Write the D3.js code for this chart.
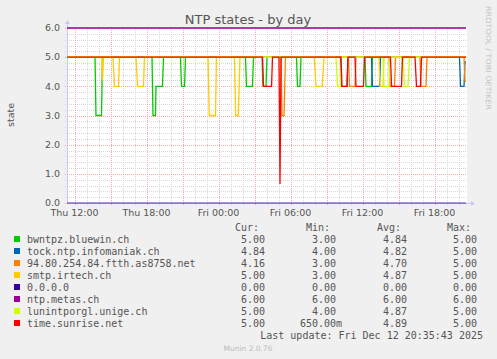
<!DOCTYPE html>
<html>
<head>
<meta charset="utf-8">
<script src="https://cdn.jsdelivr.net/npm/d3@7"></script>
<style>
html,body{margin:0;padding:0;background:#F0F0F0;}
svg{display:block;}
</style>
</head>
<body>
<script>
// ---- data (hours counted from Thu 00:00, value) ----
const names = ["bwntpz.bluewin.ch","tock.ntp.infomaniak.ch","94.80.254.84.ftth.as8758.net","smtp.irtech.ch","0.0.0.0","ntp.metas.ch","lunintporgl.unige.ch","time.sunrise.net"];
const colors = ["#00CC00","#0066B3","#FF8000","#FFCC00","#330099","#990099","#CCFF00","#FF0000"];
const curVals = ["5.00","4.84","4.16","5.00","0.00","6.00","5.00","5.00"];
const minVals = ["3.00","4.00","3.00","3.00","0.00","6.00","4.00","650.00m"];
const avgVals = ["4.84","4.82","4.70","4.87","0.00","6.00","4.87","4.89"];
const maxVals = ["5.00","5.00","5.00","5.00","0.00","6.00","5.00","5.00"];
const yTicks = [0,1,2,3,4,5,6];
const timeStart = 11.375, timeEnd = 44.708;

const green = [[11.375,5],
 [13.71,5],[13.79,3],[14.25,3],[14.33,5],
 [18.46,5],[18.54,3],[18.75,3],[18.79,4],[19.33,4],[19.42,5],
 [20.83,5],[20.92,4],[21.17,4],[21.25,5],
 [26.25,5],[26.33,4],[26.83,4],[26.92,5],
 [27.625,5],[27.71,4],[27.96,4],[28.04,5],
 [30.5,5],[30.58,4],[30.79,4],[30.875,5],
 [36.21,5],[36.29,4],[36.75,4],[36.83,5],
 [44.625,5]];
const blue = [[11.375,5],
 [34.17,5],[34.25,4],[34.71,4],[34.79,5],
 [36.75,5],[36.83,4],[37.42,4],[37.5,5],
 [44.08,5],[44.17,4],[44.46,4],[44.54,4.84],[44.625,4.84]];
const orange = [[11.375,5],
 [29.21,5],[29.29,3],[29.46,3],[29.58,5],
 [34.83,5],[34.92,4],[35.375,4],[35.46,5],
 [38.21,5],[38.29,4],[38.67,4],[38.75,5],
 [40.79,5],[40.875,4],[41.29,4],[41.375,5],
 [44.46,5],[44.54,4.16],[44.625,4.16]];
const yellow = [[11.375,5],
 [14.29,5],[14.33,4.2],[14.42,5],
 [15.21,5],[15.33,4],[15.67,4],[15.75,5],
 [17.125,5],[17.25,4],[17.75,4],[17.83,5],
 [23.125,5],[23.23,3],[23.75,3],[23.83,5],
 [25.33,5],[25.43,3],[25.65,3],[25.79,5],
 [31.98,5],[32.125,4],[32.65,4],[32.79,5],
 [37.375,5],[37.46,4],[37.71,4],[37.79,5],
 [44.625,5]];
const zeroSeries = [[11.375,0],[44.625,0]];
const metas = [[11.375,6],[44.625,6]];
const lime = [[11.375,5],
 [33.79,5],[33.92,4],[34.17,4],[34.25,5],
 [37.71,5],[37.79,4],[38.21,4],[38.29,5],
 [39.375,5],[39.5,4],[39.79,4],[39.92,5],
 [44.625,5]];
const red = [[11.375,5],
 [27.67,5],[27.75,4],[28.42,4],[28.5,5],
 [29.04,5],[29.125,0.65],[29.21,5],
 [34.21,5],[34.29,4],[34.71,4],[34.79,5],
 [35.375,5],[35.46,4],[36.08,4],[36.17,5],
 [38.33,5],[38.42,4],[39.25,4],[39.33,5],
 [40.375,5],[40.5,4],[40.83,4],[40.92,5],
 [44.625,5]];
const seriesData = [green, blue, orange, yellow, zeroSeries, metas, lime, red];

// ---- drawing ----
const W = 497, H = 359;
const base = new Date(2025, 11, 11, 0, 0, 0);
const toDate = h => new Date(base.getTime() + h * 3600000);
const L = 67, R = 467, T = 28, B = 203;

const svg = d3.select("body").append("svg").attr("width", W).attr("height", H);
svg.append("rect").attr("width", W).attr("height", H).attr("fill", "#F0F0F0");

const x = d3.scaleTime().domain([toDate(timeStart), toDate(timeEnd)]).range([L, R]);
const y = d3.scaleLinear().domain([0, 6]).range([B, T]);

svg.append("rect").attr("x", L).attr("y", T).attr("width", R - L).attr("height", B - T).attr("fill", "#FFFFFF");

const grid = svg.append("g").attr("shape-rendering", "crispEdges");
d3.range(0, 6.01, 0.2).forEach(v => {
  if (Math.abs(v - Math.round(v)) < 1e-6) return;
  const yy = Math.round(y(v)) + 0.5;
  grid.append("line").attr("x1", L - 2).attr("x2", R).attr("y1", yy).attr("y2", yy)
    .attr("stroke", "#D8D8D8").attr("stroke-dasharray", "1,1");
});
x.ticks(d3.timeHour.every(1)).forEach(d => {
  if (d.getHours() % 3 === 0) return;
  const xx = Math.round(x(d)) + 0.5;
  grid.append("line").attr("x1", xx).attr("x2", xx).attr("y1", T).attr("y2", B + 2)
    .attr("stroke", "#D8D8D8").attr("stroke-dasharray", "1,1");
});
yTicks.forEach(v => {
  const yy = Math.round(y(v)) + 0.5;
  grid.append("line").attr("x1", L - 2).attr("x2", R).attr("y1", yy).attr("y2", yy)
    .attr("stroke", "#F0A8A8").attr("stroke-dasharray", "1,1");
});
x.ticks(d3.timeHour.every(3)).forEach(d => {
  const xx = Math.round(x(d)) + 0.5;
  grid.append("line").attr("x1", xx).attr("x2", xx).attr("y1", T).attr("y2", B + 2)
    .attr("stroke", "#F0A8A8").attr("stroke-dasharray", "1,1");
});

const axisCol = "#C8C8F8";
svg.append("line").attr("x1", L + 0.5).attr("x2", L + 0.5).attr("y1", B).attr("y2", T - 6)
  .attr("stroke", axisCol).attr("shape-rendering", "crispEdges");
svg.append("path").attr("d", `M${L-2},${T-4}L${L+0.5},${T-8}L${L+3},${T-4}Z`).attr("fill", axisCol);
svg.append("line").attr("x1", L).attr("x2", R + 6).attr("y1", B + 0.5).attr("y2", B + 0.5)
  .attr("stroke", axisCol).attr("shape-rendering", "crispEdges");
svg.append("path").attr("d", `M${R+4},${B-2}L${R+8},${B+0.5}L${R+4},${B+3}Z`).attr("fill", axisCol);

svg.append("g").selectAll("text").data(yTicks).join("text")
  .attr("x", 60).attr("y", d => y(d)).attr("dy", "0.35em")
  .attr("text-anchor", "end").attr("font-family", "DejaVu Sans").attr("font-size", 9.5)
  .attr("fill", "#555").text(d => d.toFixed(1));

const fmt = d3.timeFormat("%a %H:%M");
svg.append("g").selectAll("text").data(x.ticks(d3.timeHour.every(6))).join("text")
  .attr("x", d => x(d)).attr("y", 216)
  .attr("text-anchor", "middle").attr("font-family", "DejaVu Sans").attr("font-size", 9.5)
  .attr("fill", "#555").text(d => fmt(d));

const line = d3.line().x(d => x(toDate(d[0]))).y(d => y(d[1]));
seriesData.forEach((s, i) => {
  svg.append("path").attr("d", line(s)).attr("fill", "none")
    .attr("stroke", colors[i]).attr("stroke-width", 1.3)
    .attr("stroke-opacity", i === 4 ? 0.55 : 1);
});

svg.append("text").attr("x", 248).attr("y", 24).attr("text-anchor", "middle")
  .attr("font-family", "DejaVu Sans").attr("font-size", 13).attr("fill", "#555")
  .text("NTP states - by day");

svg.append("text").attr("transform", "translate(14,115) rotate(-90)")
  .attr("text-anchor", "middle").attr("font-family", "DejaVu Sans").attr("font-size", 9.5)
  .attr("fill", "#555").text("state");

svg.append("text").attr("transform", "translate(485.5,6) rotate(90)")
  .attr("text-anchor", "start").attr("font-family", "DejaVu Sans").attr("font-size", 7)
  .attr("fill", "#C4C4C4").attr("textLength", 104).attr("lengthAdjust", "spacingAndGlyphs")
  .text("RRDTOOL / TOBI OETIKER");

const mono = "DejaVu Sans Mono";
const hdr = svg.append("g").attr("font-family", mono).attr("font-size", 10).attr("fill", "#555");
[["Cur:",235],["Min:",306],["Avg:",377],["Max:",447]].forEach(([t, xx]) => {
  hdr.append("text").attr("x", xx).attr("y", 231).text(t);
});
names.forEach((n, i) => {
  const yy = 243 + i * 12;
  svg.append("rect").attr("x", 14).attr("y", yy - 7).attr("width", 6).attr("height", 6).attr("fill", colors[i]);
  const g = svg.append("g").attr("font-family", mono).attr("font-size", 10).attr("fill", "#555");
  g.append("text").attr("x", 27).attr("y", yy).text(n);
  g.append("text").attr("x", 265).attr("y", yy).attr("text-anchor", "end").text(curVals[i]);
  const mv = minVals[i];
  if (mv.endsWith("m")) {
    g.append("text").attr("x", 336).attr("y", yy).attr("text-anchor", "end").text(mv.slice(0, -1));
    g.append("text").attr("x", 336).attr("y", yy).text("m");
  } else {
    g.append("text").attr("x", 336).attr("y", yy).attr("text-anchor", "end").text(mv);
  }
  g.append("text").attr("x", 407).attr("y", yy).attr("text-anchor", "end").text(avgVals[i]);
  g.append("text").attr("x", 477).attr("y", yy).attr("text-anchor", "end").text(maxVals[i]);
});
svg.append("text").attr("x", 483).attr("y", 339).attr("text-anchor", "end")
  .attr("font-family", mono).attr("font-size", 10).attr("fill", "#555")
  .text("Last update: Fri Dec 12 20:35:43 2025");
svg.append("text").attr("x", 248).attr("y", 351).attr("text-anchor", "middle")
  .attr("font-family", "DejaVu Sans").attr("font-size", 7.5).attr("fill", "#BBB")
  .text("Munin 2.0.76");
</script>
</body>
</html>
